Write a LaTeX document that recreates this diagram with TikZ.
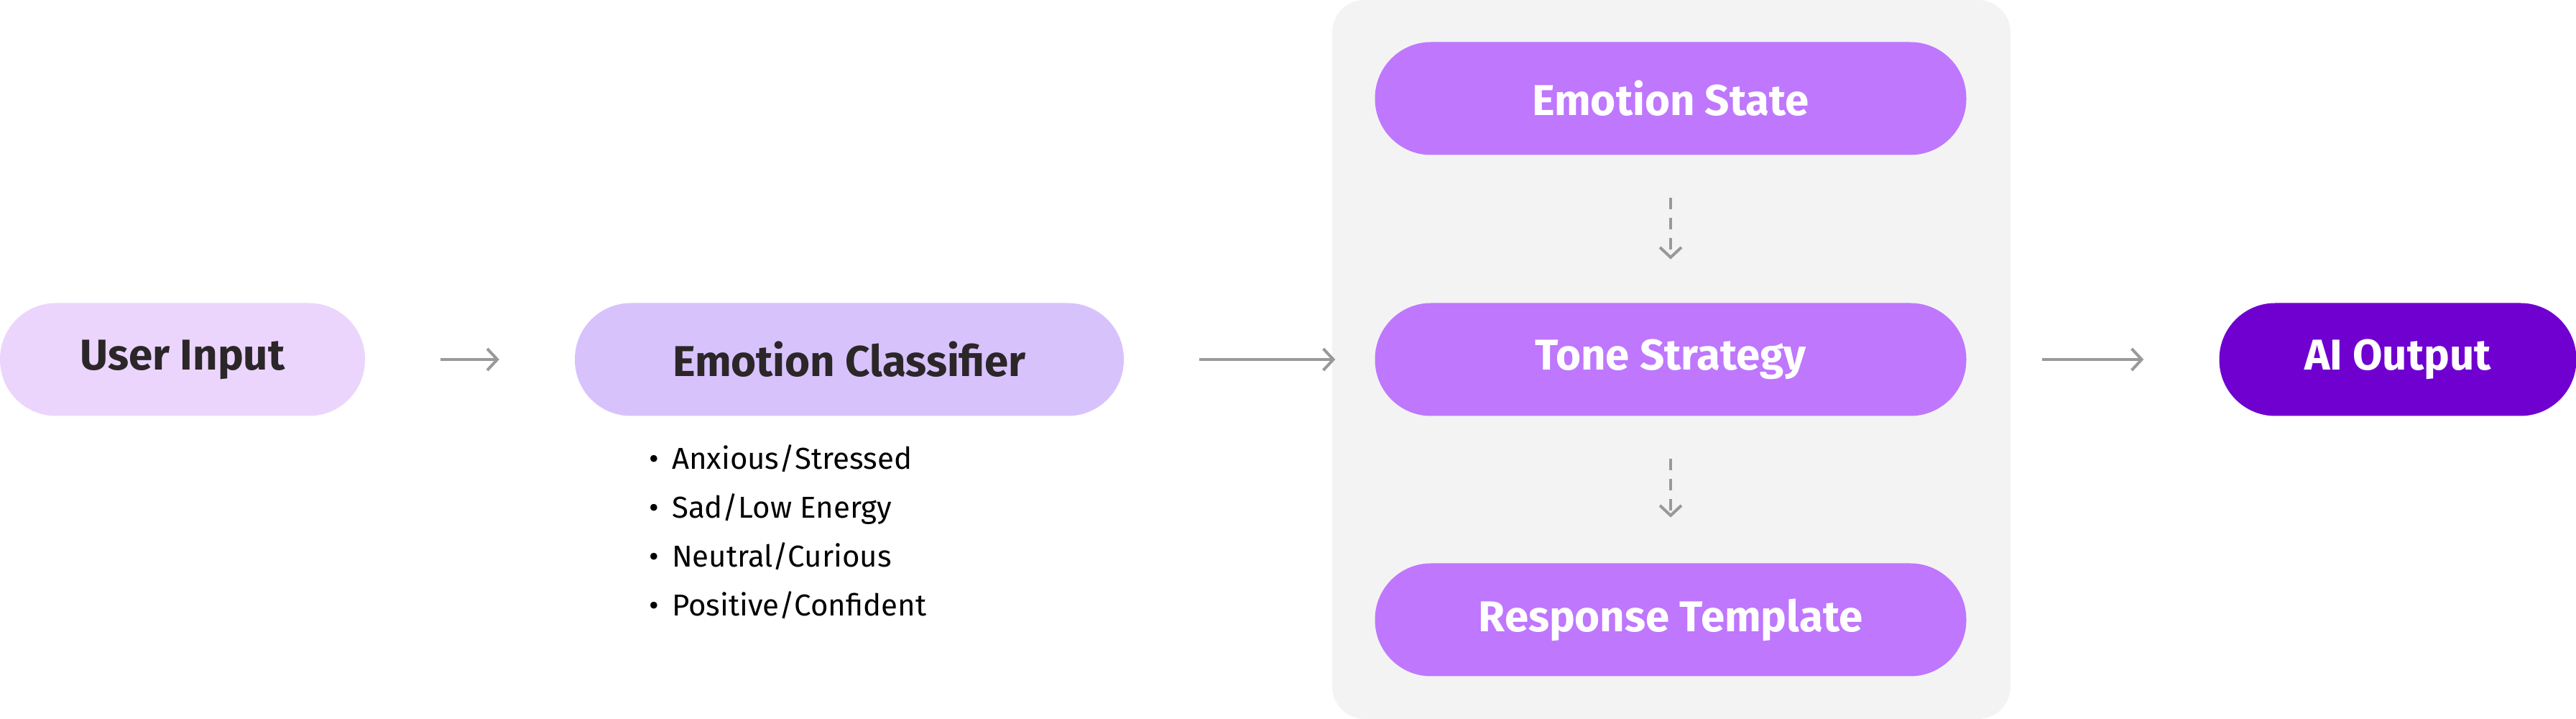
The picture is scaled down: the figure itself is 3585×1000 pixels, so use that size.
\documentclass[tikz,border=0pt]{standalone}
\usepackage{fontspec}
\setmainfont{Fira Sans}
\usetikzlibrary{arrows.meta, positioning}
\definecolor{txtdark}{HTML}{2B2628}
\definecolor{fillinput}{HTML}{EBD5FD}
\definecolor{fillclass}{HTML}{D8C2FC}
\definecolor{fillstage}{HTML}{BF77FE}
\definecolor{fillout}{HTML}{7000D0}
\definecolor{fillpanel}{HTML}{F3F3F3}
\definecolor{arrowgray}{HTML}{999999}
\tikzset{
  pill/.style={rounded corners=78pt, minimum height=157pt, inner sep=0pt,
    font=\fontsize{60}{72}\selectfont\bfseries},
  flow/.style={draw=arrowgray, line width=4pt, -{Straight Barb[length=14pt, width=30pt, line width=4pt]}},
  dflow/.style={flow, dash pattern=on 16pt off 12pt}
}
\begin{document}
\begin{tikzpicture}[x=1pt, y=1pt]
                        \useasboundingbox (0, 0) rectangle (3585, 1000);
                        \fill[fillpanel, rounded corners=45pt] (1854, 0) rectangle (2798, 1000);

                        \node[pill, fill=fillinput, text=txtdark, minimum width=508pt] (input) at (254, 500) {User Input};
                        \node[pill, fill=fillclass, text=txtdark, minimum width=764pt] (classifier) at (1182, 500) {Emotion Classifier};
                        \node[pill, fill=fillstage, text=white, minimum width=823pt] (state) at (2325, 863) {Emotion State};
                        \node[pill, fill=fillstage, text=white, minimum width=823pt] (tone) at (2325, 500) {Tone Strategy};
                        \node[pill, fill=fillstage, text=white, minimum width=823pt] (template) at (2325, 138) {Response Template};
                        \node[pill, fill=fillout, text=white, minimum width=497pt] (output) at (3337, 500) {AI Output};

                        \node[anchor=north west, text=black, font=\fontsize{42}{68}\selectfont, align=left] (emotions) at (900, 385)
                        {\textbullet\hspace{18pt}Anxious/Stressed\\
                         \textbullet\hspace{18pt}Sad/Low Energy\\
                         \textbullet\hspace{18pt}Neutral/Curious\\
                         \textbullet\hspace{18pt}Positive/Confident};

                        \draw[flow] ([xshift=105pt]input.east) -- ([xshift=-105pt]classifier.west);
                        \draw[flow] ([xshift=105pt]classifier.east) -- ([xshift=-55pt]tone.west);
                        \draw[flow] ([xshift=105pt]tone.east) -- ([xshift=-105pt]output.west);
                        \draw[dflow] ([yshift=-59pt]state.south) -- ([yshift=-145pt]state.south);
                        \draw[dflow] ([yshift=-59pt]tone.south) -- ([yshift=-141pt]tone.south);
                    \end{tikzpicture}
\end{document}
